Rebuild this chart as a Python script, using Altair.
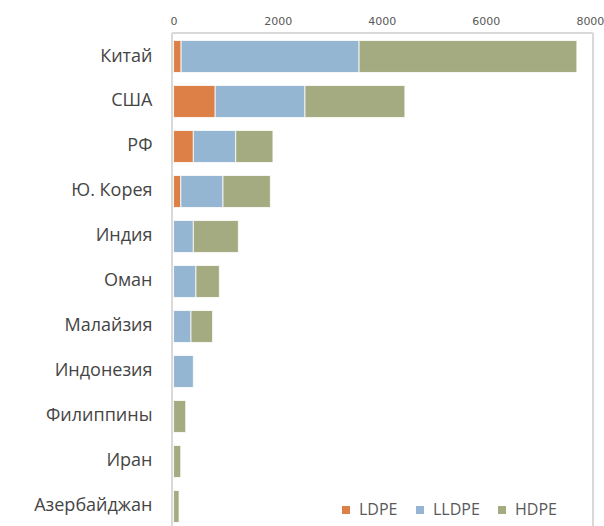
import altair as alt
import pandas as pd

countries = ["Китай", "США", "РФ", "Ю. Корея", "Индия", "Оман", "Малайзия",
             "Индонезия", "Филиппины", "Иран", "Азербайджан"]
ldpe = [145, 800, 380, 140, 0, 0, 0, 0, 0, 0, 0]
lldpe = [3420, 1725, 815, 810, 380, 430, 335, 380, 0, 0, 0]
hdpe = [4185, 1920, 715, 910, 865, 450, 415, 0, 234, 138, 106]
series = ["LDPE", "LLDPE", "HDPE"]
colors = ["#DD8047", "#94B6D2", "#A5AB81"]
x_ticks = [0, 2000, 4000, 6000, 8000]

rows = []
for i, c in enumerate(countries):
    for k, (s, vals) in enumerate(zip(series, [ldpe, lldpe, hdpe])):
        if vals[i] > 0:
            rows.append({"country": c, "type": s, "value": vals[i], "ord": k})
df = pd.DataFrame(rows)

W, H = 421, 493
GRAY = "#595959"

bars = alt.Chart(df).mark_bar(stroke="#ffffff", strokeWidth=0.8).encode(
    x=alt.X("value:Q", stack="zero", title=None,
            scale=alt.Scale(domain=[-30, 8060], nice=False, zero=False),
            axis=alt.Axis(orient="top", values=x_ticks, format="d", domain=False,
                          ticks=False, grid=False, labelPadding=7,
                          labelFont="DejaVu Sans", labelFontSize=11,
                          labelColor=GRAY)),
    y=alt.Y("country:N", sort=countries, title=None,
            scale=alt.Scale(paddingInner=0.29, paddingOuter=0.123, align=0.68),
            axis=alt.Axis(domain=False, ticks=False, grid=False, labelPadding=20,
                          labelFont="Open Sans", labelFontSize=18,
                          labelColor="#454545", labelLimit=0)),
    color=alt.Color("type:N", sort=series,
                    scale=alt.Scale(domain=series, range=colors),
                    legend=alt.Legend(title=None, orient="none", direction="horizontal",
                                      legendX=166, legendY=469,
                                      symbolType="square", symbolSize=64,
                                      symbolStrokeWidth=0, labelOffset=5,
                                      columnPadding=14, padding=0,
                                      labelFont="Open Sans", labelFontSize=16,
                                      labelColor=GRAY)),
    order=alt.Order("ord:Q"),
)

frame_df = pd.DataFrame({"a": [0]})
frame_color = "#D9D9D9"
top_line = alt.Chart(frame_df).mark_rule(color=frame_color, strokeWidth=2).encode(
    x=alt.value(0), x2=alt.value(W), y=alt.value(0))
left_line = alt.Chart(frame_df).mark_rule(color=frame_color, strokeWidth=2).encode(
    x=alt.value(0), y=alt.value(0), y2=alt.value(H))
right_line = alt.Chart(frame_df).mark_rule(color=frame_color, strokeWidth=2).encode(
    x=alt.value(W), y=alt.value(0), y2=alt.value(H))

chart = alt.layer(top_line, left_line, right_line, bars).properties(
    width=W, height=H,
    autosize=alt.AutoSizeParams(type="none"),
    padding={"left": 172, "top": 33, "right": 11, "bottom": 0},
    background="#ffffff",
).configure_view(stroke=None)

chart.save("out.html", embed_options={"renderer": "svg", "actions": False})
